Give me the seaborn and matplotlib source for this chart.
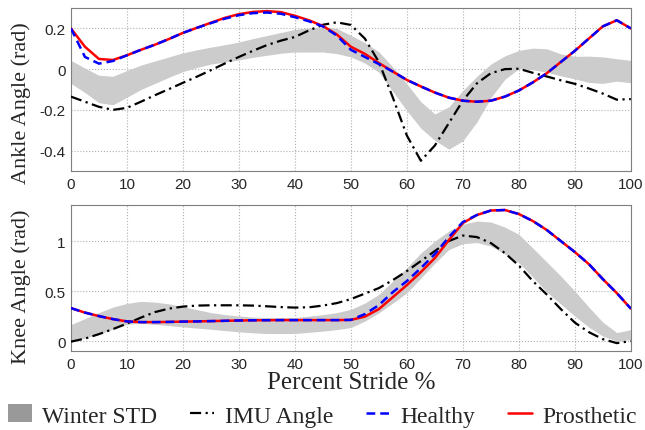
import numpy as np
import matplotlib
matplotlib.use('Agg')
import matplotlib.pyplot as plt
import seaborn as sns
from matplotlib.patches import Patch
from matplotlib.lines import Line2D

# percent stride sample points
stride = np.arange(0, 100.1, 2.5)

# ankle angle (rad)
ankle_healthy = [0.20, 0.06, 0.027, 0.04, 0.068, 0.095, 0.12, 0.148, 0.178, 0.203,
                 0.226, 0.248, 0.265, 0.275, 0.278, 0.272, 0.255, 0.235, 0.21, 0.165,
                 0.095, 0.06, 0.025, -0.012, -0.053, -0.085, -0.115, -0.14, -0.155, -0.16,
                 -0.155, -0.135, -0.105, -0.065, -0.02, 0.035, 0.09, 0.15, 0.21, 0.24, 0.2]
ankle_prosthetic = [0.20, 0.11, 0.05, 0.045, 0.068, 0.095, 0.12, 0.148, 0.178, 0.203,
                    0.228, 0.252, 0.27, 0.281, 0.285, 0.28, 0.262, 0.24, 0.212, 0.17,
                    0.11, 0.075, 0.03, -0.012, -0.053, -0.085, -0.115, -0.14, -0.155, -0.16,
                    -0.155, -0.135, -0.105, -0.065, -0.02, 0.035, 0.09, 0.15, 0.21, 0.24, 0.2]
ankle_imu = [-0.135, -0.16, -0.185, -0.2, -0.19, -0.16, -0.128, -0.098, -0.067, -0.037,
             -0.005, 0.028, 0.06, 0.09, 0.118, 0.14, 0.158, 0.19, 0.218, 0.23,
             0.217, 0.15, 0.035, -0.14, -0.326, -0.45, -0.375, -0.265, -0.155, -0.07,
             -0.02, 0.0, 0.002, -0.018, -0.036, -0.055, -0.072, -0.095, -0.12, -0.15, -0.147]
ankle_std_hi = [0.043, 0.005, -0.03, -0.035, -0.007, 0.02, 0.04, 0.06, 0.08, 0.095,
                0.108, 0.12, 0.133, 0.15, 0.165, 0.18, 0.195, 0.203, 0.208, 0.2,
                0.166, 0.13, 0.085, 0.01, -0.072, -0.16, -0.22, -0.185, -0.105, -0.035,
                0.025, 0.065, 0.092, 0.103, 0.1, 0.075, 0.063, 0.064, 0.06, 0.051, 0.043]
ankle_std_lo = [-0.07, -0.115, -0.165, -0.175, -0.138, -0.1, -0.07, -0.04, -0.012, 0.008,
                0.025, 0.035, 0.045, 0.058, 0.068, 0.078, 0.084, 0.084, 0.084, 0.076,
                0.06, 0.03, -0.015, -0.11, -0.204, -0.29, -0.35, -0.393, -0.352, -0.26,
                -0.14, -0.05, 0.002, -0.003, -0.015, -0.033, -0.048, -0.065, -0.07, -0.059, -0.067]

# knee angle (rad)
knee_healthy = [0.33, 0.285, 0.25, 0.22, 0.197, 0.19, 0.19, 0.192, 0.195, 0.197,
                0.2, 0.203, 0.206, 0.208, 0.209, 0.21, 0.21, 0.21, 0.21, 0.21,
                0.212, 0.27, 0.36, 0.49, 0.6, 0.73, 0.87, 1.04, 1.19, 1.26,
                1.305, 1.31, 1.27, 1.2, 1.11, 1.0, 0.89, 0.77, 0.62, 0.48, 0.325]
knee_prosthetic = [0.33, 0.285, 0.25, 0.22, 0.197, 0.19, 0.19, 0.192, 0.195, 0.197,
                   0.2, 0.203, 0.206, 0.208, 0.209, 0.21, 0.21, 0.21, 0.21, 0.21,
                   0.212, 0.245, 0.32, 0.44, 0.56, 0.69, 0.83, 1.01, 1.18, 1.26,
                   1.305, 1.31, 1.27, 1.2, 1.11, 1.0, 0.89, 0.77, 0.62, 0.48, 0.325]
knee_imu = [-0.005, 0.025, 0.07, 0.12, 0.175, 0.235, 0.29, 0.325, 0.345, 0.355,
            0.358, 0.358, 0.358, 0.355, 0.348, 0.34, 0.335, 0.338, 0.355, 0.38,
            0.42, 0.475, 0.53, 0.61, 0.7, 0.8, 0.9, 1.0, 1.055, 1.04,
            0.98, 0.88, 0.755, 0.6, 0.465, 0.32, 0.185, 0.09, 0.02, -0.02, 0.0]
knee_std_hi = [0.165, 0.225, 0.285, 0.34, 0.377, 0.397, 0.39, 0.372, 0.344, 0.315,
               0.285, 0.265, 0.252, 0.24, 0.235, 0.235, 0.235, 0.25, 0.265, 0.285,
               0.317, 0.38, 0.467, 0.6, 0.733, 0.88, 1.0, 1.1, 1.167, 1.2,
               1.19, 1.14, 1.067, 0.93, 0.79, 0.65, 0.5, 0.34, 0.19, 0.085, 0.115]
knee_std_lo = [-0.01, 0.03, 0.07, 0.12, 0.169, 0.178, 0.167, 0.156, 0.142, 0.13,
               0.119, 0.105, 0.093, 0.083, 0.076, 0.076, 0.076, 0.088, 0.1, 0.115,
               0.136, 0.2, 0.283, 0.38, 0.483, 0.63, 0.78, 0.915, 0.973, 0.985,
               0.95, 0.87, 0.783, 0.64, 0.49, 0.37, 0.25, 0.14, 0.05, 0.0, 0.017]

sns.set_theme(style='white')
plt.rcParams['font.family'] = ['Liberation Sans', 'DejaVu Sans']
plt.rcParams['axes.edgecolor'] = '#7f7f7f'

band_color = '#cccccc'
imu_style = (0, (5, 2, 1, 2))
healthy_style = (0, (3.5, 2))

fig = plt.figure(figsize=(6.45, 4.31), dpi=100)
ax1 = fig.add_axes([0.110, 0.601, 0.868, 0.378])
ax2 = fig.add_axes([0.110, 0.183, 0.868, 0.339])

panels = [
    (ax1, ankle_std_lo, ankle_std_hi, ankle_imu, ankle_prosthetic, ankle_healthy,
     'Ankle Angle (rad)', (-0.5, 0.3), [-0.4, -0.2, 0, 0.2], ['-0.4', '-0.2', '0', '0.2']),
    (ax2, knee_std_lo, knee_std_hi, knee_imu, knee_prosthetic, knee_healthy,
     'Knee Angle (rad)', (-0.1, 1.36), [0, 0.5, 1], ['0', '0.5', '1']),
]

for ax, lo, hi, imu, pros, healthy, ylabel, ylim, yt, ytl in panels:
    ax.fill_between(stride, lo, hi, color=band_color, linewidth=0, zorder=1)
    sns.lineplot(x=stride, y=imu, ax=ax, color='black', linewidth=1.6,
                 linestyle=imu_style, zorder=3)
    sns.lineplot(x=stride, y=pros, ax=ax, color='red', linewidth=1.8, zorder=4)
    sns.lineplot(x=stride, y=healthy, ax=ax, color='blue', linewidth=1.8,
                 linestyle=healthy_style, zorder=5)
    ax.set_xlim(0, 100)
    ax.set_ylim(*ylim)
    ax.set_xticks(range(0, 101, 10))
    ax.set_yticks(yt)
    ax.set_yticklabels(ytl)
    ax.grid(True, linestyle=':', color='#b0b0b0', linewidth=0.8, zorder=0)
    ax.set_axisbelow(True)
    ax.tick_params(labelsize=11, direction='in', length=3, color='#7f7f7f', pad=4)
    ax.set_ylabel(ylabel, family='Liberation Serif', fontsize=16, labelpad=6)
    for s in ax.spines.values():
        s.set_linewidth(0.8)

ax2.set_xlabel('Percent Stride %', family='Liberation Serif', fontsize=18, labelpad=0)
ax1.yaxis.set_label_coords(-0.072, 0.42)
ax2.yaxis.set_label_coords(-0.072, 0.45)

handles = [
    Patch(facecolor='#999999', edgecolor='none'),
    Line2D([], [], color='black', linewidth=1.6, linestyle=imu_style),
    Line2D([], [], color='blue', linewidth=1.8, linestyle=healthy_style),
    Line2D([], [], color='red', linewidth=1.8),
]
labels = ['Winter STD', 'IMU Angle', 'Healthy', 'Prosthetic']
fig.legend(handles, labels, loc='lower center', bbox_to_anchor=(0.5, -0.025), ncol=4,
           frameon=False, prop={'family': 'Liberation Serif', 'size': 17},
           handlelength=1.0, handletextpad=0.45, columnspacing=1.4, handleheight=0.8,
           borderaxespad=0.2)

fig.savefig('out.png', dpi=100)
